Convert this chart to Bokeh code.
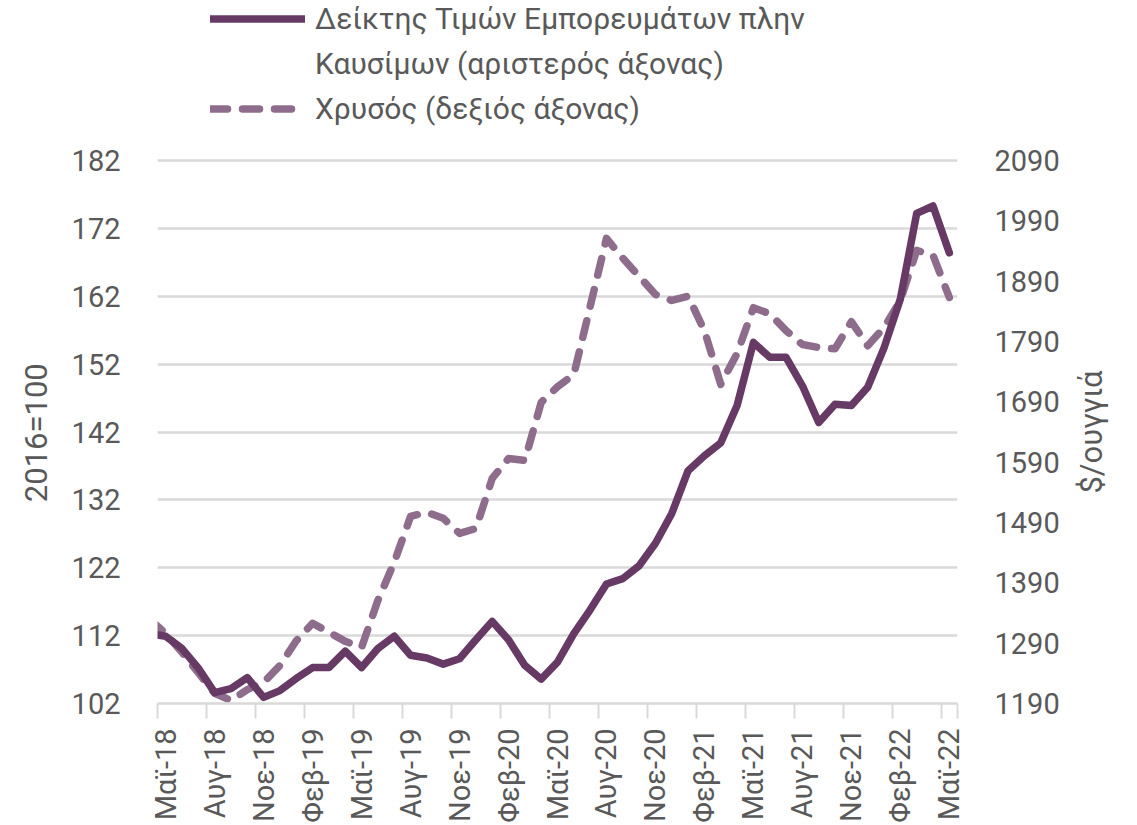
from math import pi
from bokeh.plotting import figure
from bokeh.layouts import row
from bokeh.models import Range1d, LinearAxis, FixedTicker, Legend, LegendItem, Label
from bokeh.embed import file_html
from bokeh.resources import INLINE

# ---- data ----
months = ["Απρ-18", "Μαϊ-18", "Ιουν-18", "Ιουλ-18", "Αυγ-18", "Σεπ-18", "Οκτ-18", "Νοε-18", "Δεκ-18",
          "Ιαν-19", "Φεβ-19", "Μαρ-19", "Απρ-19", "Μαϊ-19", "Ιουν-19", "Ιουλ-19", "Αυγ-19", "Σεπ-19",
          "Οκτ-19", "Νοε-19", "Δεκ-19",
          "Ιαν-20", "Φεβ-20", "Μαρ-20", "Απρ-20", "Μαϊ-20", "Ιουν-20", "Ιουλ-20", "Αυγ-20", "Σεπ-20",
          "Οκτ-20", "Νοε-20", "Δεκ-20",
          "Ιαν-21", "Φεβ-21", "Μαρ-21", "Απρ-21", "Μαϊ-21", "Ιουν-21", "Ιουλ-21", "Αυγ-21", "Σεπ-21",
          "Οκτ-21", "Νοε-21", "Δεκ-21",
          "Ιαν-22", "Φεβ-22", "Μαρ-22", "Απρ-22", "Μαϊ-22"]

commodities_ex_fuel = [112.3,
                       111.9, 110.1, 107.2, 103.6, 104.2, 105.8, 102.9, 103.9, 105.7, 107.3,
                       107.3, 109.7, 107.3, 110.1, 111.9, 109.1, 108.7, 107.8, 108.6, 111.4,
                       114.1, 111.4, 107.6, 105.6, 108.1, 112.3, 115.8, 119.6, 120.4, 122.3,
                       125.6, 130.0, 136.3, 138.5, 140.4, 145.9, 155.2, 153.0, 153.0, 148.8,
                       143.4, 146.1, 145.9, 148.6, 154.4, 161.6, 174.2, 175.3, 168.4]

gold = [1330,
        1306, 1275, 1241, 1207, 1195, 1213, 1225, 1253, 1294, 1323,
        1308, 1293, 1283, 1361, 1424, 1500, 1507, 1497, 1472, 1480,
        1563, 1596, 1593, 1689, 1715, 1735, 1848, 1961, 1928, 1898,
        1868, 1858, 1865, 1808, 1719, 1770, 1846, 1836, 1808, 1785,
        1780, 1778, 1823, 1783, 1813, 1858, 1941, 1933, 1863]

left_ticks = [102, 112, 122, 132, 142, 152, 162, 172, 182]
right_ticks = [1190, 1290, 1390, 1490, 1590, 1690, 1790, 1890, 1990, 2090]

left_title = "2016=100"
right_title = "$/ουγγιά"
label_names = ["Δείκτης Τιμών Εμπορευμάτων πλην", "Καυσίμων (αριστερός άξονας)", "Χρυσός (δεξιός άξονας)"]

# month index: first entry (Απρ-18) sits just left of the visible range
x = [i - 1 for i in range(len(months))]
n_vis = len(months) - 1
label_idx = list(range(0, n_vis, 3))
boundary_idx = [i - 0.5 for i in label_idx] + [n_vis - 0.5]

FONT = "Roboto"
TXT = "#595959"
GRID = "#D9D9D9"
C1 = "#673A65"
C2 = "#8E6C8C"

# geometry: gridded area is 543 px tall; the frame is extended upward so the
# legend can sit in the frame above the gridded area
FRAME_W = 800
GRID_H = 543
TOP_PAD = 160
FRAME_H = GRID_H + TOP_PAD
BORDER_L = 157
BORDER_R = 108
BORDER_B = 106
TOTAL_H = FRAME_H + BORDER_B
SIDE_W = 56

left_span = left_ticks[-1] - left_ticks[0]
right_span = right_ticks[-1] - right_ticks[0]
left_top = left_ticks[0] + left_span * FRAME_H / GRID_H
right_top = right_ticks[0] + right_span * FRAME_H / GRID_H

# left axis title is centred on the gridded area, not on the extended frame:
# pad its upper end with no-break spaces
PAD = "\u00a0" * 21

p = figure(frame_width=FRAME_W, frame_height=FRAME_H,
           x_range=Range1d(-0.5, n_vis - 0.5),
           y_range=Range1d(left_ticks[0], left_top),
           output_backend="svg", toolbar_location=None,
           min_border_left=BORDER_L, min_border_right=BORDER_R,
           min_border_top=0, min_border_bottom=BORDER_B)
p.outline_line_color = None
p.background_fill_color = "white"
p.border_fill_color = "white"
p.extra_y_ranges = {"gold": Range1d(right_ticks[0], right_top)}

# grid
p.xgrid.visible = False
p.ygrid.ticker = FixedTicker(ticks=left_ticks)
p.ygrid.grid_line_color = GRID
p.ygrid.grid_line_width = 2.5

# left axis
ya = p.yaxis[0]
ya.ticker = FixedTicker(ticks=left_ticks)
ya.axis_line_color = None
ya.major_tick_line_color = None
ya.minor_tick_line_color = None
ya.major_label_standoff = 31
ya.major_label_text_font = FONT
ya.major_label_text_font_size = "29px"
ya.major_label_text_color = TXT
ya.axis_label = left_title + PAD
ya.axis_label_text_font = FONT
ya.axis_label_text_font_size = "31px"
ya.axis_label_text_font_style = "normal"
ya.axis_label_text_color = TXT
ya.axis_label_standoff = 14

# right axis (its title is drawn in the narrow strip figure to the right)
ra = LinearAxis(y_range_name="gold", ticker=FixedTicker(ticks=right_ticks))
ra.axis_line_color = None
ra.major_tick_line_color = None
ra.minor_tick_line_color = None
ra.major_label_standoff = 31
ra.major_label_text_font = FONT
ra.major_label_text_font_size = "29px"
ra.major_label_text_color = TXT
p.add_layout(ra, "right")

# x axis
xa = p.xaxis[0]
xa.ticker = FixedTicker(ticks=label_idx, minor_ticks=boundary_idx)
xa.major_label_overrides = {i: months[i + 1] for i in label_idx}
xa.major_label_orientation = pi / 2
xa.major_tick_line_color = None
xa.minor_tick_in = 0
xa.minor_tick_out = 15
xa.minor_tick_line_color = GRID
xa.minor_tick_line_width = 2
xa.axis_line_color = GRID
xa.axis_line_width = 2.5
xa.major_label_standoff = 10
xa.major_label_text_font = FONT
xa.major_label_text_font_size = "29px"
xa.major_label_text_color = TXT

# series
r2 = p.line(x, gold, y_range_name="gold", line_color=C2, line_width=7.5,
            line_dash="17 15", line_cap="round", line_join="round")
r1 = p.line(x, commodities_ex_fuel, line_color=C1, line_width=7.5,
            line_cap="round", line_join="round")
r_blank = p.line(x, commodities_ex_fuel, line_alpha=0)

legend = Legend(items=[LegendItem(label=label_names[0], renderers=[r1]),
                       LegendItem(label=label_names[1], renderers=[r_blank]),
                       LegendItem(label=label_names[2], renderers=[r2])],
                location=(53, FRAME_H - 126), orientation="vertical",
                glyph_width=95, glyph_height=33, label_height=33,
                spacing=10, padding=0, margin=0, label_standoff=10,
                border_line_color=None, background_fill_alpha=0,
                label_text_font=FONT, label_text_font_size="30px",
                label_text_color=TXT)
p.add_layout(legend)

# narrow strip holding the right axis title (bottom-to-top, centred on the grid)
s = figure(frame_width=SIDE_W, frame_height=TOTAL_H,
           x_range=Range1d(0, SIDE_W), y_range=Range1d(0, TOTAL_H),
           x_axis_location=None, y_axis_location=None, title=None,
           output_backend="svg", toolbar_location=None,
           min_border_left=0, min_border_right=0, min_border_top=0, min_border_bottom=0)
s.grid.visible = False
s.outline_line_color = None
s.background_fill_color = "white"
s.border_fill_color = "white"
s.add_layout(Label(x=SIDE_W / 2 - 2, y=BORDER_B + GRID_H / 2,
                   text=right_title, angle=pi / 2, text_align="center", text_baseline="middle",
                   text_font=FONT, text_font_size="31px", text_color=TXT))

layout = row(p, s, spacing=0)
open("out.html", "w").write(file_html(layout, INLINE))
